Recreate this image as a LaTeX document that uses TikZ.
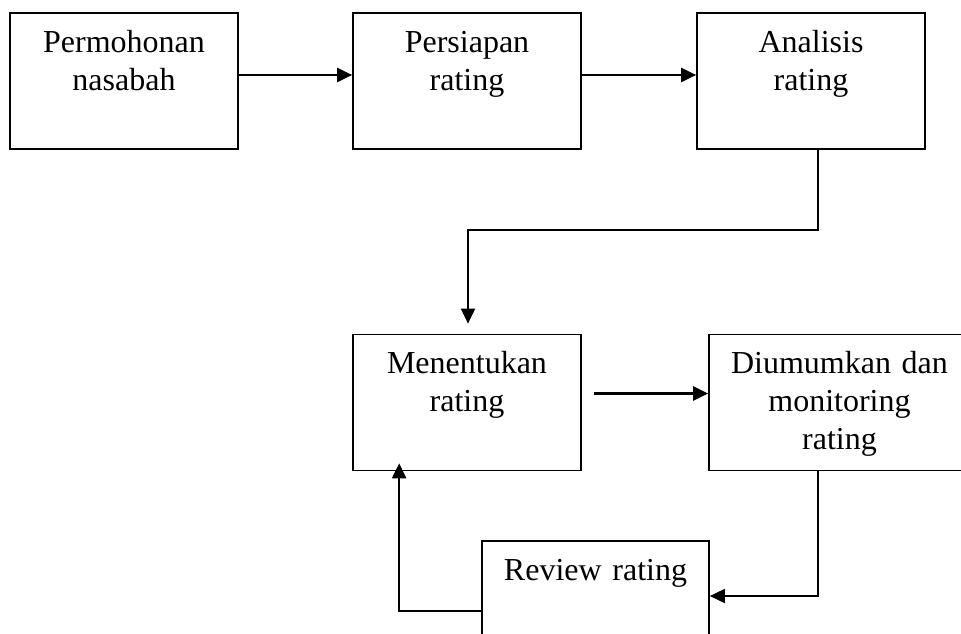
\documentclass[tikz,border=0pt]{standalone}
\usepackage{fontspec}
\setmainfont{Liberation Serif}
\usetikzlibrary{arrows.meta,calc}
\tikzset{
  ratingflow/.style={
    x=1pt,y=-1pt,
    blk/.style={draw=black,line width=1.7pt,inner sep=0pt,align=center,
                text width=##1,text height=39pt,text depth=97pt,
                font=\fontsize{32}{38}\selectfont},
    blk/.default=228pt,
    ar/.style={-{Triangle[length=15pt,width=14pt]},draw=black,line width=2.3pt}},
}

\begin{document}
\begin{tikzpicture}[ratingflow]
    \useasboundingbox (0,0) rectangle (961,633);
    \node[blk] (b1) at (124,81) {Permohonan\\nasabah};
    \node[blk] (b2) at (467,81) {Persiapan\\rating};
    \node[blk] (b3) at (811,81) {Analisis\\rating};
    \node[blk] (bm) at (467,402.5) {Menentukan\\rating};
    \node[blk=261pt] (bd) at (839.5,402.5) {Diumumkan dan\\monitoring\\rating};
    \node[blk=227pt] (br) at (595.5,609) {Review rating};
    \draw[ar] ([yshift=6pt]b1.east) -- ([yshift=6pt]b2.west);
    \draw[ar] ([yshift=6pt]b2.east) -- ([yshift=6pt]b3.west);
    \draw[ar,line width=1.8pt,shorten >=10pt] ([xshift=7pt]b3.south) -- ++(0,80) -| ([xshift=1pt]bm.north);
    \draw[ar,shorten <=12pt] ([yshift=9pt]bm.east) -- ([yshift=9pt]bd.west);
    \draw[ar,line width=1.8pt] ([xshift=110pt]bd.south west) |- ([yshift=13pt]br.east);
    \draw[ar,shorten >=-8pt] ([yshift=-2pt]br.west) -| ([xshift=47pt]bm.south west);
  \end{tikzpicture}
\end{document}
